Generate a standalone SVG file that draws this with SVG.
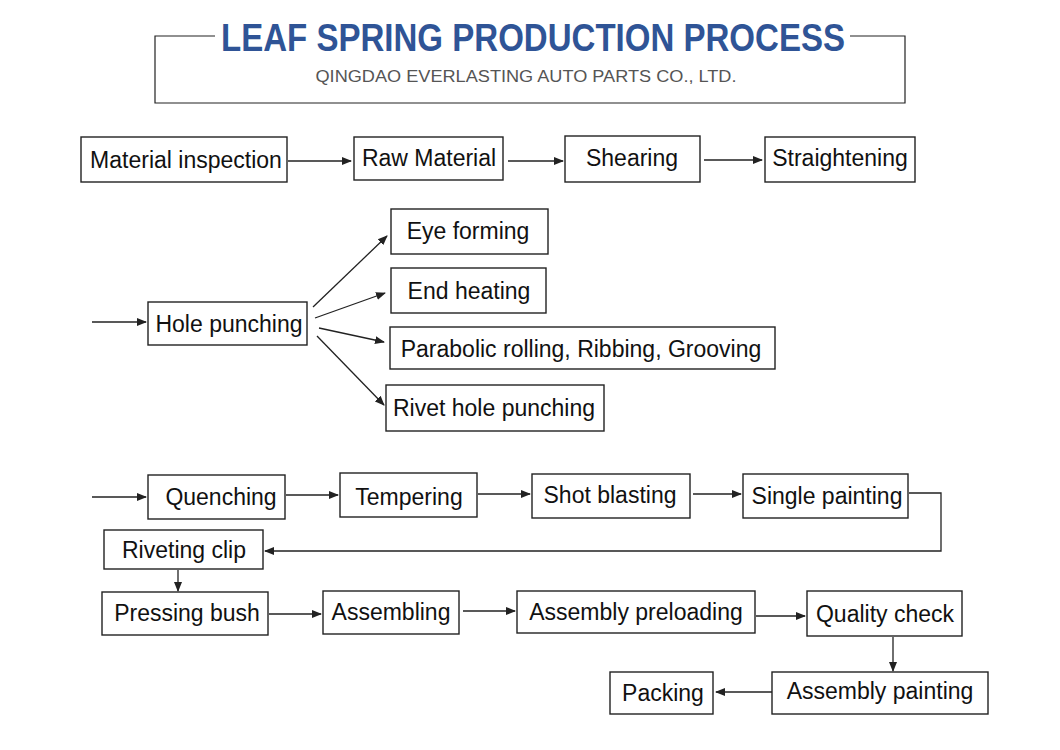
<svg xmlns="http://www.w3.org/2000/svg" width="1060" height="750" viewBox="0 0 1060 750">
<style>
.box{fill:#fff;stroke:#222;stroke-width:1.4}
.lbl{font-family:"Liberation Sans",Arial,sans-serif;font-size:23px;fill:#111;text-anchor:middle}
.con{fill:none;stroke:#222;stroke-width:1.3}
.frame{fill:none;stroke:#222;stroke-width:1.2}
</style>
<defs>
<marker id="ah" viewBox="0 0 10 10" refX="9" refY="5" markerWidth="10" markerHeight="10" orient="auto" markerUnits="userSpaceOnUse">
<path d="M0,1 L10,5 L0,9 Z" fill="#222"/>
</marker>
</defs>
<rect width="1060" height="750" fill="#fff"/>
<g id="header">
<path class="frame" d="M215,36 H155 V103 H905 V36 H850"/>
<text x="533" y="51" font-family="'Liberation Sans',Arial,sans-serif" font-size="39" font-weight="bold" fill="#2F5496" text-anchor="middle" textLength="624" lengthAdjust="spacingAndGlyphs">LEAF SPRING PRODUCTION PROCESS</text>
<text x="526" y="82" font-family="'Liberation Sans',Arial,sans-serif" font-size="16" fill="#555" text-anchor="middle" textLength="421" lengthAdjust="spacingAndGlyphs">QINGDAO EVERLASTING AUTO PARTS CO., LTD.</text>
</g>
<g id="connectors">
<line class="con" x1="288" y1="161" x2="351" y2="161" marker-end="url(#ah)"/>
<line class="con" x1="508" y1="161" x2="563" y2="161" marker-end="url(#ah)"/>
<line class="con" x1="704" y1="160" x2="762" y2="160" marker-end="url(#ah)"/>
<line class="con" x1="92" y1="322" x2="146" y2="322" marker-end="url(#ah)"/>
<line class="con" x1="313" y1="307" x2="387" y2="236" marker-end="url(#ah)"/>
<line class="con" x1="315" y1="318" x2="385" y2="293" marker-end="url(#ah)"/>
<line class="con" x1="319" y1="328" x2="384" y2="342" marker-end="url(#ah)"/>
<line class="con" x1="317" y1="336" x2="384" y2="405" marker-end="url(#ah)"/>
<line class="con" x1="92" y1="497" x2="146" y2="497" marker-end="url(#ah)"/>
<line class="con" x1="286" y1="495" x2="338" y2="495" marker-end="url(#ah)"/>
<line class="con" x1="478" y1="494" x2="530" y2="494" marker-end="url(#ah)"/>
<line class="con" x1="693" y1="494" x2="741" y2="494" marker-end="url(#ah)"/>
<path class="con" d="M909,493 H941 V551 H265" marker-end="url(#ah)"/>
<line class="con" x1="178" y1="570" x2="178" y2="591" marker-end="url(#ah)"/>
<line class="con" x1="269" y1="614" x2="321" y2="614" marker-end="url(#ah)"/>
<line class="con" x1="463" y1="611" x2="515" y2="611" marker-end="url(#ah)"/>
<line class="con" x1="756" y1="616" x2="805" y2="616" marker-end="url(#ah)"/>
<line class="con" x1="893" y1="637" x2="893" y2="671" marker-end="url(#ah)"/>
<line class="con" x1="772" y1="692" x2="716" y2="692" marker-end="url(#ah)"/>
</g>
<g id="n-material-inspection"><rect class="box" x="81" y="137" width="206" height="45"/><text class="lbl" x="186" y="168">Material inspection</text></g>
<g id="n-raw-material"><rect class="box" x="354" y="137" width="149" height="43"/><text class="lbl" x="429" y="166">Raw Material</text></g>
<g id="n-shearing"><rect class="box" x="565" y="136" width="135" height="46"/><text class="lbl" x="632" y="166">Shearing</text></g>
<g id="n-straightening"><rect class="box" x="765" y="137" width="150" height="45"/><text class="lbl" x="840" y="166">Straightening</text></g>
<g id="n-hole-punching"><rect class="box" x="148" y="302" width="159" height="43"/><text class="lbl" x="229" y="332">Hole punching</text></g>
<g id="n-eye-forming"><rect class="box" x="391" y="209" width="157" height="45"/><text class="lbl" x="468" y="239">Eye forming</text></g>
<g id="n-end-heating"><rect class="box" x="391" y="268" width="155" height="45"/><text class="lbl" x="469" y="299">End heating</text></g>
<g id="n-parabolic"><rect class="box" x="390" y="327" width="385" height="42"/><text class="lbl" x="581" y="357">Parabolic rolling, Ribbing, Grooving</text></g>
<g id="n-rivet-hole"><rect class="box" x="386" y="385" width="218" height="46"/><text class="lbl" x="494" y="416">Rivet hole punching</text></g>
<g id="n-quenching"><rect class="box" x="148" y="475" width="137" height="44"/><text class="lbl" x="221" y="505">Quenching</text></g>
<g id="n-tempering"><rect class="box" x="340" y="473" width="137" height="44"/><text class="lbl" x="409" y="505">Tempering</text></g>
<g id="n-shot-blasting"><rect class="box" x="532" y="474" width="158" height="44"/><text class="lbl" x="610" y="503">Shot blasting</text></g>
<g id="n-single-painting"><rect class="box" x="743" y="474" width="165" height="44"/><text class="lbl" x="827" y="504">Single painting</text></g>
<g id="n-riveting-clip"><rect class="box" x="104" y="530" width="159" height="39"/><text class="lbl" x="184" y="558">Riveting clip</text></g>
<g id="n-pressing-bush"><rect class="box" x="102" y="592" width="166" height="43"/><text class="lbl" x="187" y="621">Pressing bush</text></g>
<g id="n-assembling"><rect class="box" x="323" y="591" width="136" height="43"/><text class="lbl" x="391" y="620">Assembling</text></g>
<g id="n-assembly-preloading"><rect class="box" x="517" y="591" width="238" height="42"/><text class="lbl" x="636" y="620">Assembly preloading</text></g>
<g id="n-quality-check"><rect class="box" x="807" y="591" width="155" height="45"/><text class="lbl" x="885" y="622">Quality check</text></g>
<g id="n-assembly-painting"><rect class="box" x="772" y="672" width="216" height="42"/><text class="lbl" x="880" y="699">Assembly painting</text></g>
<g id="n-packing"><rect class="box" x="610" y="672" width="103" height="42"/><text class="lbl" x="663" y="701">Packing</text></g>
</svg>
